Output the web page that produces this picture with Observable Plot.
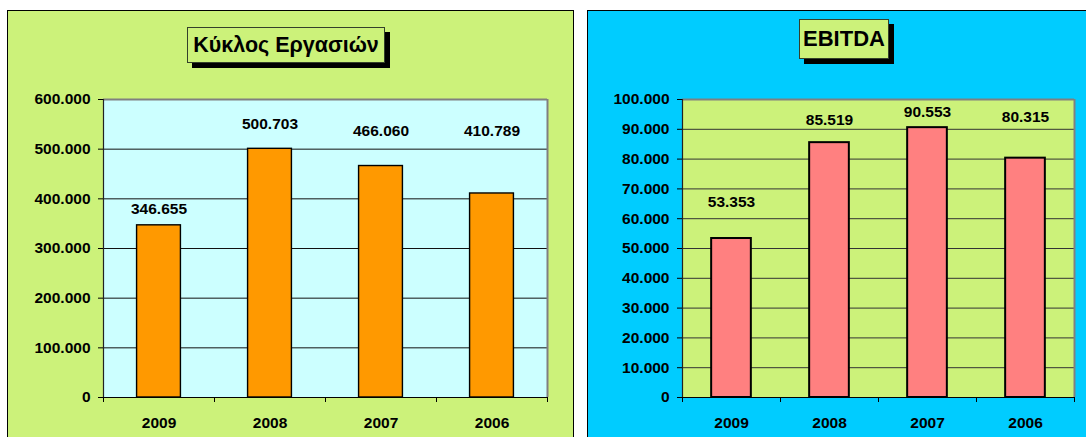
<!DOCTYPE html>
<html><head><meta charset="utf-8">
<script src="https://cdn.jsdelivr.net/npm/d3@7"></script>
<script src="https://cdn.jsdelivr.net/npm/@observablehq/plot@0.6"></script>
<style>
html,body{margin:0;padding:0;background:#fff;}
body{width:1086px;height:437px;overflow:hidden;position:relative;font-family:"Liberation Sans",Arial,sans-serif;}
.panel{position:absolute;box-sizing:border-box;border:1px solid #000;}
.title{position:absolute;box-sizing:border-box;border:1px solid #34402a;background:#CCF27A;box-shadow:5px 5px 0 #000;font-weight:bold;display:flex;align-items:center;justify-content:center;color:#000;white-space:nowrap;}
.chart{position:absolute;top:0;}
</style></head><body>
<div class="panel" style="left:7px;top:10px;width:567px;height:450px;background:#CCF27A"></div>
<div class="panel" style="left:587px;top:10px;width:520px;height:450px;background:#00CCFF"></div>
<div class="title" style="left:187px;top:27px;width:198px;height:36px;font-size:21.5px">Κύκλος Εργασιών</div>
<div class="title" style="left:799px;top:19px;width:90px;height:40px;font-size:22px">EBITDA</div>
<div id="left" class="chart" style="left:0px"></div>
<div id="right" class="chart" style="left:580px"></div>
<script>
// ---- data ----
const years = ["2009", "2008", "2007", "2006"];
const turnover = [346655, 500703, 466060, 410789];
const ebitda = [53353, 85519, 90553, 80315];
// height (in value units) at which each data label is printed in the original
const turnoverLabelLevel = [380000, 550500, 535600, 535600];
const ebitdaLabelLevel = [65500, 93200, 95700, 94200];
const turnoverTicks = [0, 100000, 200000, 300000, 400000, 500000, 600000];
const ebitdaTicks = [0, 10000, 20000, 30000, 40000, 50000, 60000, 70000, 80000, 90000, 100000];

const fmt = d3.formatLocale({decimal: ",", thousands: ".", grouping: [3], currency: ["", "€"]}).format(",d");
const FONT = '"Liberation Sans", Arial, Helvetica, sans-serif';

function chart(o) {
  const data = years.map((y, i) => ({year: y, value: o.values[i], level: o.levels[i]}));
  const bw = (o.width - o.mL - o.mR) / years.length;
  const barW = bw * o.barRatio;
  const inset = (bw - barW) / 2;
  const plotH = o.height - o.mT - o.mB;
  const top = o.ticks[o.ticks.length - 1];
  return Plot.plot({
    width: o.width, height: o.height,
    marginLeft: o.mL, marginRight: o.mR, marginTop: o.mT, marginBottom: o.mB,
    style: {background: "transparent", fontFamily: FONT, fontSize: "15.5px", fontWeight: "bold", color: "#000", overflow: "visible"},
    x: {domain: years, padding: 0, axis: null, label: null},
    y: {domain: [o.ticks[0], top], axis: null, label: null},
    marks: [
      Plot.frame({fill: o.plotBg, stroke: "none"}),
      Plot.gridY(o.ticks, {stroke: o.gridColor, strokeOpacity: 1, strokeWidth: 1}),
      Plot.ruleY([top], {stroke: "#808080", strokeWidth: 2}),
      Plot.ruleX([years[years.length - 1]], {dx: bw / 2, stroke: "#808080", strokeWidth: 2}),
      Plot.barY(data, {x: "year", y: "value", fill: o.barFill, stroke: "#000", strokeWidth: o.barStrokeWidth, insetLeft: inset, insetRight: inset}),
      Plot.ruleX([years[0]], {dx: -bw / 2, stroke: "#222", strokeWidth: 1.2}),
      Plot.ruleY([0], {stroke: "#000", strokeWidth: 1.2}),
      Plot.axisY(o.ticks, {tickSize: 5, tickPadding: 8, tickFormat: fmt, stroke: "#000", label: null}),
      Plot.ruleX(years, {dx: -bw / 2, insetTop: plotH, insetBottom: -5, stroke: "#000"}),
      Plot.ruleX([years[years.length - 1]], {dx: bw / 2, insetTop: plotH, insetBottom: -5, stroke: "#000"}),
      Plot.axisX({tickSize: 0, tickPadding: 19, label: null}),
      Plot.text(data, {x: "year", y: "level", text: d => fmt(d.value), fill: "#000"})
    ]
  });
}

document.getElementById("left").append(chart({
  values: turnover, levels: turnoverLabelLevel, ticks: turnoverTicks,
  width: 580, height: 437, mL: 103, mR: 33, mT: 99, mB: 40,
  plotBg: "#CCFFFF", barFill: "#FF9900", barStrokeWidth: 1.4, gridColor: "#111", barRatio: 0.395
}));
document.getElementById("right").append(chart({
  values: ebitda, levels: ebitdaLabelLevel, ticks: ebitdaTicks,
  width: 506, height: 437, mL: 102, mR: 12, mT: 99, mB: 40,
  plotBg: "#CCF27A", barFill: "#FF8080", barStrokeWidth: 2, gridColor: "#333", barRatio: 0.405
}));
</script>
</body></html>
